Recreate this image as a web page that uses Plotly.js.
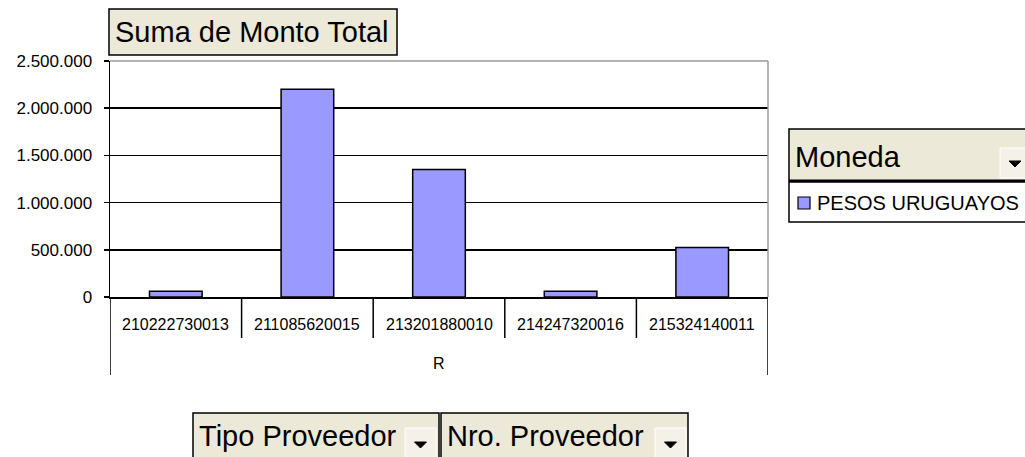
<!DOCTYPE html>
<html>
<head>
<meta charset="utf-8">
<script src="https://cdn.plot.ly/plotly-3.0.1.min.js"></script>
<style>
html,body{margin:0;padding:0;background:#fff;}
#chart{width:1025px;height:457px;}
</style>
</head>
<body>
<div id="chart"></div>
<script>
// ---- data ----
const proveedores = ["210222730013","211085620015","213201880010","214247320016","215324140011"];
const montos = [60000, 2200000, 1350000, 62000, 525000];
const serieNombre = "PESOS URUGUAYOS";
const grupoTipo = "R";
const yTicks = [0, 500000, 1000000, 1500000, 2000000, 2500000];

// ---- layout helpers (pixel -> paper) ----
const W = 1025, H = 457;
const L = 110, R = 768, T = 61, B = 297;
const X = px => (px - L) / (R - L);
const Y = py => (B - py) / (B - T);
const beige = "#ECE9D8";
const FONT = "Liberation Sans, Arial, sans-serif";

const shapes = [];
const annotations = [];

// plot area top/right border (gray)
shapes.push({type:"line", xref:"paper", yref:"paper", x0:0, x1:1, y0:1, y1:1, line:{color:"#9a9a9a", width:1.5}});
shapes.push({type:"line", xref:"paper", yref:"paper", x0:1, x1:1, y0:0, y1:1, line:{color:"#9a9a9a", width:1.5}});

// category divider lines under axis
for (let i = 0; i <= proveedores.length; i++) {
  const xv = i - 0.5;
  const bottom = (i === 0 || i === proveedores.length) ? Y(375) : Y(338);
  shapes.push({type:"line", xref:"x", yref:"paper", x0:xv, x1:xv, y0:0, y1:bottom,
    line:{color:"#000", width:1.5}});
}
// category labels
proveedores.forEach((p, i) => {
  annotations.push({x:i, xref:"x", y:Y(324), yref:"paper", text:p, showarrow:false,
    font:{family:FONT, size:16, color:"#000"}, xanchor:"center", yanchor:"middle"});
});
// group label
annotations.push({x:(proveedores.length - 1) / 2, xref:"x", y:Y(363), yref:"paper", text:grupoTipo, showarrow:false,
  font:{family:FONT, size:16, color:"#000"}, xanchor:"center", yanchor:"middle"});

function button(x0, y0, x1, y1, text, size, textY, arrow, thickBottom) {
  shapes.push({type:"rect", xref:"paper", yref:"paper", x0:X(x0), x1:X(x1), y0:Y(y1), y1:Y(y0),
    fillcolor:beige, line:{color:"#000", width:1.5}, layer:"above"});
  if (thickBottom) {
    shapes.push({type:"line", xref:"paper", yref:"paper", x0:X(x0), x1:X(x1), y0:Y(y1), y1:Y(y1),
      line:{color:"#000", width:3}, layer:"above"});
  }
  annotations.push({x:X(x0+4), xref:"paper", y:Y(textY), yref:"paper", text:text, showarrow:false,
    font:{family:FONT, size:size, color:"#000"}, xanchor:"left", yanchor:"middle"});
  if (arrow) {
    const [ax0, ay0, ax1, ay1] = arrow;
    shapes.push({type:"rect", xref:"paper", yref:"paper", x0:X(ax0), x1:X(ax1), y0:Y(ay1), y1:Y(ay0),
      fillcolor:"#F4F2E8", line:{color:"#fff", width:1}, layer:"above"});
    const cx = (ax0+ax1)/2, cy = (ay0+ay1)/2 + 1;
    const path = `M ${X(cx-6)} ${Y(cy-3)} L ${X(cx+6)} ${Y(cy-3)} L ${X(cx)} ${Y(cy+3)} Z`;
    shapes.push({type:"path", xref:"paper", yref:"paper", path:path, fillcolor:"#000",
      line:{color:"#000", width:1}, layer:"above"});
  }
}

// title button
button(109, 9, 397, 55, "Suma de Monto Total", 29, 32, null, false);
// legend header
button(789, 129, 1030, 181, "Moneda", 29, 157, [1000, 148, 1030, 178], true);
// legend item box
shapes.push({type:"rect", xref:"paper", yref:"paper", x0:X(789), x1:X(1030), y0:Y(222), y1:Y(182),
  fillcolor:"#fff", line:{color:"#000", width:1.5}, layer:"above"});
shapes.push({type:"rect", xref:"paper", yref:"paper", x0:X(798), x1:X(810), y0:Y(209), y1:Y(197),
  fillcolor:"#9999FF", line:{color:"#000", width:1.2}, layer:"above"});
annotations.push({x:X(815), xref:"paper", y:Y(203), yref:"paper", text:serieNombre, showarrow:false,
  font:{family:FONT, size:20, color:"#000"}, xanchor:"left", yanchor:"middle"});
// bottom buttons
button(193, 413, 439, 470, "Tipo Proveedor", 29, 436, [405, 428, 436, 460], false);
button(441, 413, 688, 470, "Nro. Proveedor", 29, 436, [655, 428, 686, 460], false);

const trace = {
  type:"bar", x:proveedores, y:montos, name:serieNombre,
  marker:{color:"#9999FF", line:{color:"#000", width:1.5}},
  hoverinfo:"none"
};

const layout = {
  width:W, height:H,
  margin:{l:L, r:W-R, t:T, b:H-B, pad:0},
  paper_bgcolor:"#fff", plot_bgcolor:"#fff",
  showlegend:false,
  bargap:0.6,
  separators:",.",
  xaxis:{type:"category", range:[-0.5, proveedores.length - 0.5], showticklabels:false, ticks:"",
    showgrid:false, zeroline:false, showline:true, linecolor:"#000", linewidth:1.5, fixedrange:true},
  yaxis:{range:[0,2500000], tickvals:yTicks, tickformat:",d", ticks:"outside", ticklen:5,
    tickcolor:"#000", tickwidth:1.5, showgrid:true, gridcolor:"#000", gridwidth:1.5,
    zeroline:false, showline:true, linecolor:"#000", linewidth:1.5,
    tickfont:{family:FONT, size:17, color:"#000"}, ticklabelstandoff:8, fixedrange:true},
  shapes:shapes,
  annotations:annotations
};

Plotly.newPlot("chart", [trace], layout, {displayModeBar:false, staticPlot:true});
</script>
</body>
</html>
